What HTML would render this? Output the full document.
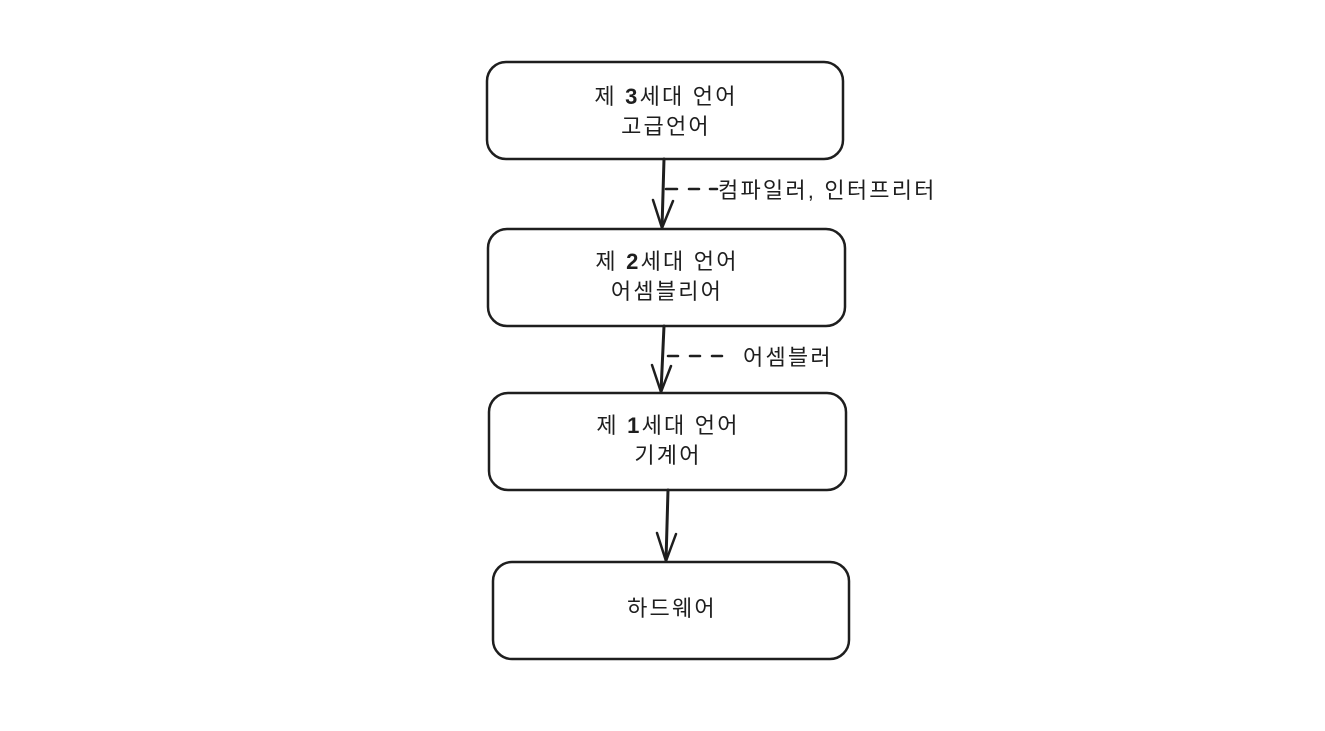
<!DOCTYPE html>
<html><head><meta charset="utf-8"><style>
html,body{margin:0;padding:0;background:#fff;}
svg{display:block;}
text{font-family:"Liberation Sans","Noto Sans CJK KR",sans-serif;font-size:22px;letter-spacing:2.2px;fill:#1e1e1e;}
</style></head><body>
<svg width="1325" height="731" viewBox="0 0 1325 731" xmlns="http://www.w3.org/2000/svg">
<g fill="none" stroke="#1e1e1e" stroke-width="2.5" stroke-linecap="round" stroke-linejoin="round">
<rect x="487" y="62" width="356" height="97" rx="19"/>
<rect x="488" y="229" width="357" height="97" rx="19"/>
<rect x="489" y="393" width="357" height="97" rx="19"/>
<rect x="493" y="562" width="356" height="97" rx="19"/>
<path d="M664 159 L662 228" stroke-width="3"/>
<path d="M653 200 L662 228 L673 201"/>
<path d="M664 326 L661 392" stroke-width="3"/>
<path d="M652 365 L661 392 L671 366"/>
<path d="M668 490 L666 561" stroke-width="3"/>
<path d="M657 533 L666 561 L676 534"/>
<path d="M666 189 H677 M689 189 H699 M710 189 H717"/>
<path d="M668 356 H678 M690 356 H700 M712 356 H722"/>
</g>
<g text-anchor="middle">
<text x="666" y="104">제 <tspan font-weight="bold">3</tspan>세대 언어</text>
<text x="666" y="134">고급언어</text>
<text x="667" y="269">제 <tspan font-weight="bold">2</tspan>세대 언어</text>
<text x="667" y="299">어셈블리어</text>
<text x="668" y="433">제 <tspan font-weight="bold">1</tspan>세대 언어</text>
<text x="668" y="463">기계어</text>
<text x="672" y="616">하드웨어</text>
</g>
<text x="718" y="198">컴파일러, 인터프리터</text>
<text x="743" y="365">어셈블러</text>
</svg>
</body></html>
